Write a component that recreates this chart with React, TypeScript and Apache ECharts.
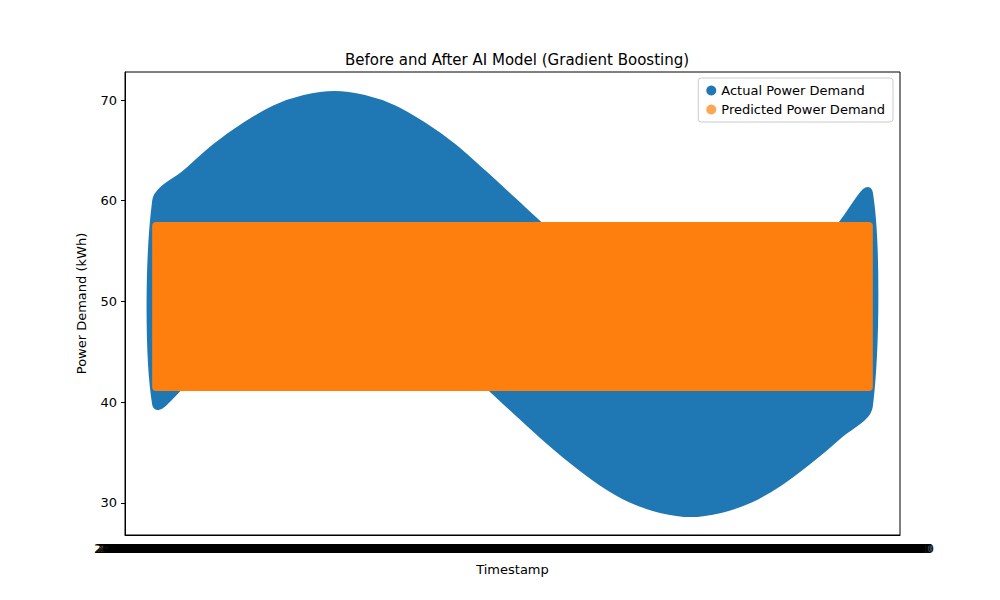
import { useEffect, useRef } from "react";
import * as echarts from "echarts";

// Sample positions along the timeline (data index) and envelopes of the actual scatter cloud.
const POSITIONS = [0, 1, 2, 3, 4, 5, 6, 7, 8, 9, 10, 11, 12, 13, 14, 15, 16, 17, 18, 19, 20, 21, 22, 23, 24];
const ACTUAL_UPPER = [60, 62.7, 65.3, 67.4, 69.1, 70.1, 70.5, 70.1, 69.1, 67.4, 65.3, 62.7, 60, 57.3, 54.8, 52.6, 50.9, 49.9, 49.5, 49.9, 50.9, 52.6, 54.8, 57.3, 60.8];
const ACTUAL_LOWER = [39.8, 42.2, 44.8, 46.9, 48.6, 49.6, 50, 49.6, 48.6, 46.9, 44.8, 42.2, 39.5, 36.8, 34.3, 32.1, 30.4, 29.4, 29, 29.4, 30.4, 32.1, 34.3, 36.8, 39.6];
const PRED_LOWER = [41.5, 41.5, 41.5, 41.5, 41.5, 41.5, 41.5, 41.5, 41.5, 41.5, 41.5, 41.5, 41.5, 41.5, 41.5, 41.5, 41.5, 41.5, 41.5, 41.5, 41.5, 41.5, 41.5, 41.5, 41.5];
const PRED_UPPER = [57.5, 57.5, 57.5, 57.5, 57.5, 57.5, 57.5, 57.5, 57.5, 57.5, 57.5, 57.5, 57.5, 57.5, 57.5, 57.5, 57.5, 57.5, 57.5, 57.5, 57.5, 57.5, 57.5, 57.5, 57.5];
// Overlapping timestamp tick labels (unreadable in the original).
const TICK_LABEL = "2023-01-01 00:00:00";
const TICK_COUNT = 520;

const BLUE = "#1f77b4";
const ORANGE = "#ff7f0e";
const FONT = "DejaVu Sans";

export default function App() {
  const chartRef = useRef<HTMLDivElement>(null);

  useEffect(() => {
    if (!chartRef.current) return;
    const chart = echarts.init(chartRef.current, undefined, { renderer: "svg" });
    const categories = Array.from({ length: TICK_COUNT }, () => TICK_LABEL);
    const inRange = (i: number) => i >= 24 && i <= 497;
    const band = (lo: number[], hi: number[], name: string, color: string, smooth: number) => ({
      name, type: "custom", xAxisIndex: 1, yAxisIndex: 0,
      data: [[0, 0]],
      itemStyle: { color },
      renderItem: (_p: any, api: any) => {
        const top = POSITIONS.map((x, i) => api.coord([x, hi[i]]));
        const bottom = POSITIONS.map((x, i) => api.coord([x, lo[i]])).reverse();
        return {
          type: "polygon",
          shape: { points: [...top, ...bottom], smooth },
          style: { fill: color, stroke: color, lineWidth: 8, lineJoin: "round" },
        };
      },
    });
    chart.setOption({
      animation: false,
      backgroundColor: "#fff",
      textStyle: { fontFamily: FONT },
      title: {
        text: "Before and After AI Model (Gradient Boosting)",
        left: 512, top: 47, textAlign: "center",
        textStyle: { fontSize: 15, fontWeight: "normal", color: "#000", fontFamily: FONT },
      },
      legend: {
        right: 107, top: 78, orient: "vertical", itemGap: 6,
        borderColor: "#ccc", borderWidth: 1, borderRadius: 3, padding: [6, 8],
        icon: "circle", itemWidth: 10, itemHeight: 10,
        textStyle: { fontSize: 13, color: "#000", fontFamily: FONT },
        data: [
          { name: "Actual Power Demand", itemStyle: { color: BLUE } },
          { name: "Predicted Power Demand", itemStyle: { color: ORANGE, opacity: 0.7 } },
        ],
      },
      grid: { left: 125, right: 100, top: 72, bottom: 65, show: true, borderColor: "#000", borderWidth: 1 },
      xAxis: [
        {
          type: "category", data: categories, name: "Timestamp", nameLocation: "middle", nameGap: 28,
          nameTextStyle: { fontSize: 13, color: "#000" },
          axisLine: { lineStyle: { color: "#000" } },
          axisTick: { interval: (i: number) => inRange(i), length: 5, lineStyle: { color: "#000" } },
          axisLabel: { interval: (i: number) => inRange(i), fontSize: 13, color: "#000", margin: 7 },
          splitLine: { show: false },
        },
        { type: "value", show: false, min: -1.05, max: 25.05, splitLine: { show: false } },
      ],
      yAxis: {
        type: "value", min: 26.82, max: 72.78, splitNumber: 5,
        name: "Power Demand (kWh)", nameLocation: "middle", nameGap: 37,
        nameTextStyle: { fontSize: 13, color: "#000" },
        axisLine: { show: true, onZero: false, lineStyle: { color: "#000" } },
        axisTick: { show: true, length: 4, lineStyle: { color: "#000" } },
        axisLabel: { fontSize: 13, color: "#000", showMinLabel: false, showMaxLabel: false },
        splitLine: { show: false },
      },
      series: [
        band(ACTUAL_LOWER, ACTUAL_UPPER, "Actual Power Demand", BLUE, 0.3),
        band(PRED_LOWER, PRED_UPPER, "Predicted Power Demand", ORANGE, 0),
      ],
    });
    return () => chart.dispose();
  }, []);

  return <div ref={chartRef} style={{ position: "fixed", left: 0, top: 0, width: 1000, height: 600 }} />;
}
